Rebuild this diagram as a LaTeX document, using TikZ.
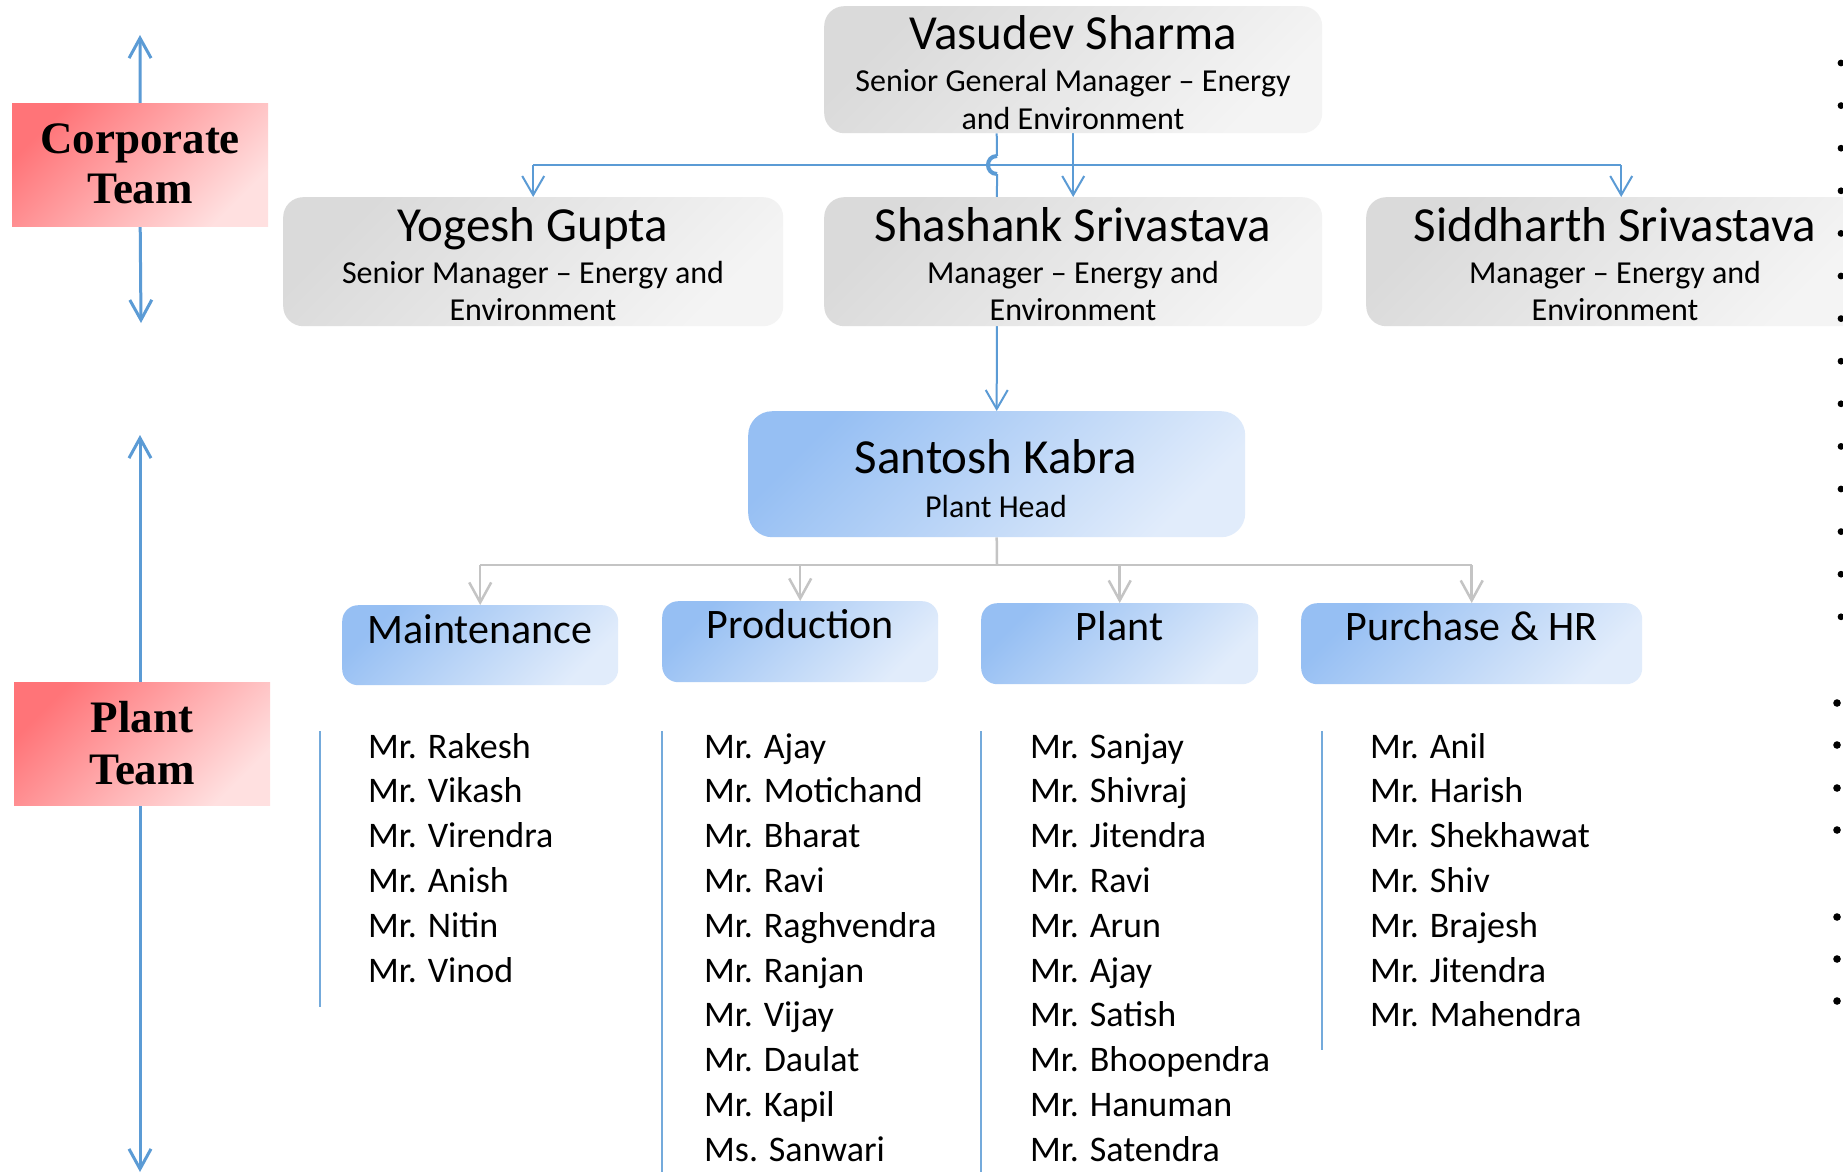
\documentclass[tikz,border=0pt]{standalone}
\usepackage{fontspec}
\newfontfamily\calfont{Carlito}
\newfontfamily\teamfont{Liberation Serif}
\usetikzlibrary{arrows.meta,backgrounds,calc}
\definecolor{conblue}{HTML}{5B9BD5}
\definecolor{congray}{HTML}{C4C4C4}
\definecolor{grayA}{HTML}{DADADA}
\definecolor{grayB}{HTML}{F4F4F4}
\definecolor{blueA}{HTML}{96BFF3}
\definecolor{blueB}{HTML}{E1ECFB}
\definecolor{redA}{HTML}{FF7478}
\definecolor{redB}{HTML}{FFE0E0}
\begin{document}
\begin{tikzpicture}[x=1pt,y=-1pt,
  graybox/.style={inner sep=0pt, anchor=north west, rounded corners=20pt, top color=grayA, bottom color=grayB, shading angle=45},
  bluebox/.style={inner sep=0pt, anchor=north west, rounded corners=16pt, top color=blueA, bottom color=blueB, shading angle=45},
  redbox/.style={inner sep=0pt, anchor=north west, top color=redA, bottom color=redB, shading angle=45},
  nameT/.style={anchor=base, inner sep=0pt, font=\calfont\fontsize{49}{59}\selectfont},
  subT/.style={anchor=base, inner sep=0pt, font=\calfont\fontsize{32}{38}\selectfont},
  deptT/.style={anchor=base, inner sep=0pt, font=\calfont\fontsize{42}{50}\selectfont},
  itemT/.style={anchor=base west, inner sep=0pt, font=\calfont\fontsize{36}{44}\selectfont},
  teamT/.style={anchor=base, inner sep=0pt, font=\teamfont\bfseries\fontsize{45}{52}\selectfont},
  arrB/.style={draw=conblue, line width=2pt, -{Straight Barb[length=19pt,width=22pt]}},
  lineB/.style={draw=conblue, line width=2pt},
  arrG/.style={draw=congray, line width=2.5pt, -{Straight Barb[length=20pt,width=22pt]}},
  lineG/.style={draw=congray, line width=2.5pt},
  teamArr/.style={draw=conblue, line width=3pt, -{Straight Barb[length=20pt,width=22pt]}},
  listLine/.style={draw=conblue!85, line width=2pt}
]
\useasboundingbox (0,0) rectangle (1843,1172);
\clip (0,0) rectangle (1843,1172);

% ---- corporate level boxes
\node[graybox, minimum width=498pt, minimum height=127pt] (vas) at (824,6) {};
\node[nameT] (vasN) at (1073,49) {Vasudev Sharma};
\node[subT] (vasS1) at (1073,91) {Senior General Manager – Energy};
\node[subT] (vasS2) at (1073,129) {and Environment};

\node[graybox, minimum width=500pt, minimum height=129pt] (yog) at (283,197) {};
\node[nameT] (yogN) at (533,241) {Yogesh Gupta};
\node[subT] (yogS1) at (533,283) {Senior Manager – Energy and};
\node[subT] (yogS2) at (533,320) {Environment};

\node[graybox, minimum width=498pt, minimum height=129pt] (sha) at (824,197) {};
\node[nameT] (shaN) at (1073,241) {Shashank Srivastava};
\node[subT] (shaS1) at (1073,283) {Manager – Energy and};
\node[subT] (shaS2) at (1073,320) {Environment};

\node[graybox, minimum width=498pt, minimum height=129pt] (sid) at (1366,197) {};
\node[nameT] (sidN) at (1615,241) {Siddharth Srivastava};
\node[subT] (sidS1) at (1615,283) {Manager – Energy and};
\node[subT] (sidS2) at (1615,320) {Environment};

% ---- plant head
\node[bluebox, rounded corners=24pt, minimum width=497pt, minimum height=126pt] (san) at (748,411) {};
\node[nameT] (sanN) at (996,473) {Santosh Kabra};
\node[subT] (sanS) at (996,517) {Plant Head};

% ---- departments
\node[bluebox, minimum width=276pt, minimum height=80pt] (mai) at (342,605) {};
\node[deptT] (maiN) at (480,643) {Maintenance};
\node[bluebox, minimum width=276pt, minimum height=81pt] (pro) at (662,601) {};
\node[deptT] (proN) at (800,638) {Production};
\node[bluebox, minimum width=277pt, minimum height=81pt] (pla) at (981,603) {};
\node[deptT] (plaN) at (1119.5,640) {Plant};
\node[bluebox, minimum width=341pt, minimum height=81pt] (pur) at (1301,603) {};
\node[deptT] (purN) at (1471.5,640) {Purchase \& HR};

% ---- team labels
\node[redbox, minimum width=256pt, minimum height=123pt] (corp) at (12,103) {};
\node[teamT] (corpA) at (140,153) {Corporate};
\node[teamT] (corpB) at (140,203) {Team};
\node[redbox, minimum width=256pt, minimum height=123pt] (plt) at (14,682) {};
\node[teamT] (pltA) at (142,732) {Plant};
\node[teamT] (pltB) at (142,784) {Team};

% ---- lists
\foreach \n [count=\i] in {Mr. Rakesh, Mr. Vikash, Mr. Virendra, Mr. Anish, Mr. Nitin, Mr. Vinod}
  \node[itemT] (mi\i) at (368,{758+44.8*(\i-1)}) {\n};
\foreach \n [count=\i] in {Mr. Ajay, Mr. Motichand, Mr. Bharat, Mr. Ravi, Mr. Raghvendra, Mr. Ranjan, Mr. Vijay, Mr. Daulat, Mr. Kapil, Ms. Sanwari}
  \node[itemT] (pi\i) at (704,{758+44.8*(\i-1)}) {\n};
\foreach \n [count=\i] in {Mr. Sanjay, Mr. Shivraj, Mr. Jitendra, Mr. Ravi, Mr. Arun, Mr. Ajay, Mr. Satish, Mr. Bhoopendra, Mr. Hanuman, Mr. Satendra}
  \node[itemT] (li\i) at (1030,{758+44.8*(\i-1)}) {\n};
\foreach \n [count=\i] in {Mr. Anil, Mr. Harish, Mr. Shekhawat, Mr. Shiv, Mr. Brajesh, Mr. Jitendra, Mr. Mahendra}
  \node[itemT] (ui\i) at (1370,{758+44.8*(\i-1)}) {\n};

% ---- coordinates for connectors
\coordinate (bus) at (1073,165);
\coordinate (sidIn) at ($(sid.north)+(6,0)$);
\coordinate (hopT) at (997,156);
\coordinate (hopB) at (997,174);
\coordinate (gbus) at (997,565);
\coordinate (corpTop) at (140,35);
\coordinate (corpBot) at (141,323);
\coordinate (pltTop) at (140,435);
\coordinate (pltBot) at (140,1172);

\begin{scope}[on background layer]
  \fill[white] (0,0) rectangle (1843,1172);
  % corporate tree
  \draw[arrB] (vas.south) -- (sha.north);
  \draw[lineB] (bus -| yog.north) -- (bus -| sidIn);
  \draw[arrB] (bus -| yog.north) -- (yog.north);
  \draw[arrB] (bus -| sidIn) -- (sidIn);
  % line from Vasudev to Santosh with hop
  \draw[lineB] (vas.south -| san.north) -- (hopT);
  \draw[draw=conblue, line width=4pt] (hopT) .. controls (985,156) and (985,174) .. (hopB);
  \draw[arrB] (hopB) -- (san.north);
  % plant tree
  \draw[lineG] (san.south) -- (gbus);
  \draw[lineG] (gbus -| mai.north) -- (gbus -| pur.north);
  \draw[arrG] (gbus -| mai.north) -- (mai.north);
  \draw[arrG] (gbus -| pro.north) -- (pro.north);
  \draw[arrG] (gbus -| pla.north) -- (pla.north);
  \draw[arrG] (gbus -| pur.north) -- (pur.north);
  % team arrows
  \draw[teamArr] (corp.north) -- (corpTop);
  \draw[teamArr] (corp.south) -- (corpBot);
  \draw[teamArr] (plt.north -| pltTop) -- (pltTop);
  \draw[teamArr] (plt.south -| pltTop) -- (pltBot);
  % list lines
  \draw[listLine] (320,731) -- (320,1007);
  \draw[listLine] (662,731) -- (662,1172);
  \draw[listLine] (981,731) -- (981,1172);
  \draw[listLine] (1322,731) -- (1322,1050);
\end{scope}

% ---- bullets at right edge
\foreach \k in {0,...,13} \fill (1841,{63+42.6*\k}) circle (3.4pt);
\foreach \yy in {703,745,788,830,917,959,1001} \fill (1837,\yy) circle (3.8pt);
\end{tikzpicture}
\end{document}
